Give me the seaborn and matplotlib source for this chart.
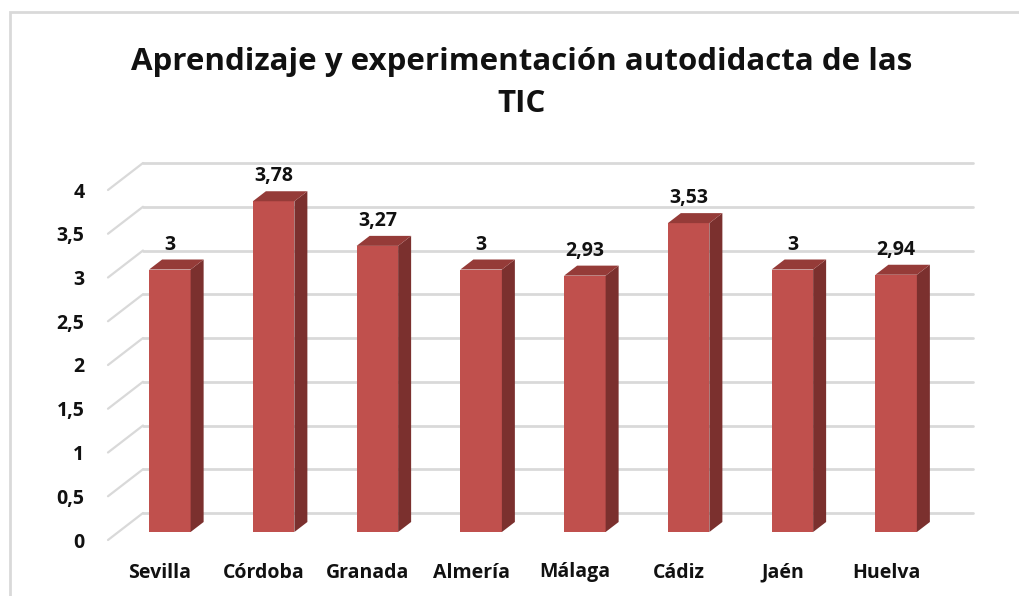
import matplotlib
matplotlib.use('Agg')
import matplotlib.pyplot as plt
from matplotlib.patches import Polygon, Rectangle
from matplotlib.transforms import ScaledTranslation
import seaborn as sns

cities = ['Sevilla', 'Córdoba', 'Granada', 'Almería', 'Málaga', 'Cádiz', 'Jaén', 'Huelva']
values = [3, 3.78, 3.27, 3, 2.93, 3.53, 3, 2.94]
yticks = [0, 0.5, 1, 1.5, 2, 2.5, 3, 3.5, 4]
title = 'Aprendizaje y experimentación autodidacta de las\nTIC'

FRONT = '#C0504D'
SIDE = '#7B302E'
TOP = '#953B38'
GRID = '#D9D9D9'
INK = '#111111'

sns.set_style('white')
plt.rcParams['font.family'] = ['Open Sans', 'DejaVu Sans']
plt.rcParams['font.weight'] = 'bold'

W, H = 1019, 596
fig = plt.figure(figsize=(W / 100, H / 100), dpi=100)
ax_l, ax_b, ax_w, ax_h = 108, 56, 830, 350
ax = fig.add_axes([ax_l / W, ax_b / H, ax_w / W, ax_h / H])

sns.barplot(x=cities, y=values, width=0.4, color=FRONT, saturation=1,
            linewidth=0, ax=ax)
ax.set_xlim(-0.5, 7.5)
ax.set_ylim(0, 4)

# pixel -> data conversion
px_x = 8.0 / ax_w
px_y = 4.0 / ax_h

def shift(dx, dy):
    return ax.transData + ScaledTranslation(dx / 100, dy / 100, fig.dpi_scale_trans)

# back wall gridlines and side-wall diagonals
back = shift(35, 27)
for t in yticks:
    ax.plot([-0.5, 7.5], [t, t], color=GRID, lw=2, transform=back, clip_on=False, zorder=0.5)
    ax.plot([-0.5, -0.5 + 35 * px_x], [t, t + 27 * px_y], color=GRID, lw=1.6,
            clip_on=False, zorder=0.5)

# pseudo-3D bars
bar_tr = shift(10, 8)
dx, dy = 13 * px_x, 10 * px_y
for p, v in zip(ax.patches, values):
    p.set_transform(bar_tr)
    p.set_zorder(2)
    p.set_edgecolor('none')
    x0, w, h = p.get_x(), p.get_width(), p.get_height()
    x1 = x0 + w
    side = Polygon([(x1, 0), (x1 + dx, dy), (x1 + dx, h + dy), (x1, h)],
                   closed=True, facecolor=SIDE, edgecolor='none', transform=bar_tr, zorder=2)
    top = Polygon([(x0, h), (x0 + dx, h + dy), (x1 + dx, h + dy), (x1, h)],
                  closed=True, facecolor=TOP, edgecolor='none', transform=bar_tr, zorder=2)
    ax.add_patch(side)
    ax.add_patch(top)
    label = f'{v:g}'.replace('.', ',')
    ax.annotate(label, (x0 + w / 2, h), xycoords=bar_tr, xytext=(0, 18),
                textcoords='offset points', ha='center', va='center',
                fontsize=14, fontweight='bold', color=INK, annotation_clip=False)

ax.set_yticks(yticks)
ax.set_yticklabels([f'{t:g}'.replace('.', ',') for t in yticks])
ax.tick_params(axis='y', length=0, pad=17, labelsize=14, labelcolor=INK)
ax.tick_params(axis='x', length=0, pad=27, labelsize=14, labelcolor=INK)
for lbl in ax.get_xticklabels():
    lbl.set_fontweight('bold')
    lbl.set_verticalalignment('baseline')
for lbl in ax.get_yticklabels():
    lbl.set_fontweight('bold')
ax.set_xlabel('')
ax.set_ylabel('')
sns.despine(ax=ax, left=True, bottom=True)
ax.patch.set_alpha(0)

fig.text(522 / W, 1 - 83 / H, title, ha='center', va='center', fontsize=22.5,
         fontweight='bold', color=INK, linespacing=1.5)

fig.patches.append(Rectangle((10 / W, -0.1), 1.2, (H - 12) / H + 0.1, transform=fig.transFigure,
                             fill=False, edgecolor=GRID, lw=2))

fig.savefig('out.png', dpi=100)
